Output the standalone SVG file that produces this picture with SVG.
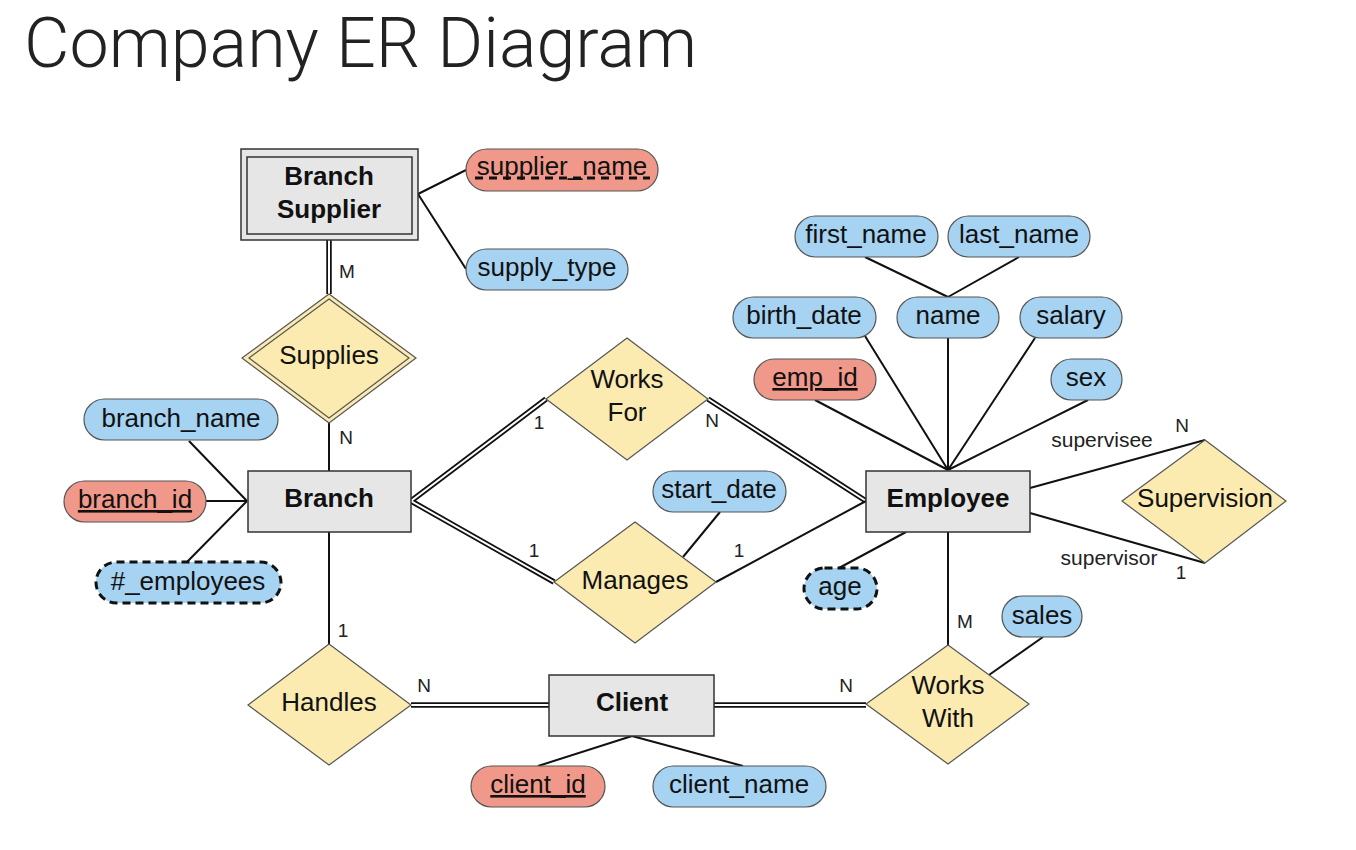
<svg xmlns="http://www.w3.org/2000/svg" width="1356" height="850" viewBox="0 0 1356 850">
<style>
.t{font-family:"Liberation Sans",Arial,sans-serif;font-size:26px;fill:#111;text-anchor:middle}
.b{font-weight:bold}
.lb{font-family:"Liberation Sans",Arial,sans-serif;font-size:19px;fill:#222;text-anchor:middle}
.rl{font-size:21px}
.ent{fill:#e6e6e6;stroke:#333;stroke-width:1.5}
.rel{fill:#fbebb0;stroke:#555;stroke-width:1.2}
.att{fill:#a5d3f1;stroke:#555;stroke-width:1.2}
.key{fill:#f0998a;stroke:#555;stroke-width:1.2}
.der{fill:#a5d3f1;stroke:#111;stroke-width:3;stroke-dasharray:8 5}
.ln{fill:none;stroke:#111;stroke-width:2}
.dbo{fill:none;stroke:#111;stroke-width:5.5}
.dbi{fill:none;stroke:#fff;stroke-width:2}
.title{font-family:Roboto,"Liberation Sans",sans-serif;font-weight:300;font-size:70px;fill:#222}
</style>
<rect width="1356" height="850" fill="#fff"/>
<text class="title" x="24" y="67">Company ER Diagram</text>

<g id="connectors">
  <!-- double lines -->
  <path class="dbo" d="M329,240 V294 M411,501 L546,399 M708,399 L866,501 M411,501 L554,582 M411,705 H549 M714,705 H866"/>
  <path class="dbi" d="M329,240 V294 M411,501 L546,399 M708,399 L866,501 M411,501 L554,582 M411,705 H549 M714,705 H866"/>
  <!-- single lines -->
  <path class="ln" d="M329,423 V471 M329,532 V644 M948,532 V645"/>
  <path class="ln" d="M716,582 L866,501"/>
  <path class="ln" d="M418,194 L466,170 M418,194 L466,269"/>
  <path class="ln" d="M189,441 L247,501 M206,501 H247 M187,562 L247,501"/>
  <path class="ln" d="M720,512 L683,557"/>
  <path class="ln" d="M865,257 L948,297 M1019,257 L948,297"/>
  <path class="ln" d="M815,400 L948,470 M865,336 L948,470 M948,338 V470 M1035,338 L948,470 M1088,400 L948,470"/>
  <path class="ln" d="M839,568 L906,532"/>
  <path class="ln" d="M1030,488 L1205,440 M1030,513 L1205,563"/>
  <path class="ln" d="M1043,637 L989,675"/>
  <path class="ln" d="M632,736 L538,766 M632,736 L743,766"/>
  <!-- cardinality labels -->
  <text class="lb" x="347" y="278">M</text>
  <text class="lb" x="346" y="444">N</text>
  <text class="lb" x="343" y="637">1</text>
  <text class="lb" x="539" y="429">1</text>
  <text class="lb" x="712" y="427">N</text>
  <text class="lb" x="534" y="557">1</text>
  <text class="lb" x="739" y="557">1</text>
  <text class="lb" x="965" y="628">M</text>
  <text class="lb" x="424" y="692">N</text>
  <text class="lb" x="846" y="692">N</text>
  <text class="lb rl" x="1102" y="447">supervisee</text>
  <text class="lb" x="1182" y="432">N</text>
  <text class="lb rl" x="1109" y="565">supervisor</text>
  <text class="lb" x="1181" y="579">1</text>
</g>

<g id="branch-supplier">
  <rect class="ent" x="241" y="149" width="177" height="91"/>
  <rect class="ent" x="247" y="157" width="165" height="77"/>
  <text class="t b" x="329" y="185">Branch</text>
  <text class="t b" x="329" y="218">Supplier</text>
</g>
<g id="supplier-name">
  <rect class="key" x="466" y="149" width="192" height="42" rx="21"/>
  <text class="t" x="562" y="175">supplier_name</text>
  <line x1="475" y1="178" x2="650" y2="178" stroke="#111" stroke-width="3" stroke-dasharray="8 6"/>
</g>
<g id="supply-type">
  <rect class="att" x="466" y="249" width="162" height="41" rx="20.5"/>
  <text class="t" x="547" y="276">supply_type</text>
</g>
<g id="supplies">
  <polygon class="rel" points="329,294 416,358 329,423 242,358"/>
  <polygon class="rel" points="329,299 409,358 329,418 249,358"/>
  <text class="t" x="329" y="364">Supplies</text>
</g>

<g id="branch">
  <rect class="ent" x="248" y="471" width="163" height="61"/>
  <text class="t b" x="329" y="507">Branch</text>
</g>
<g id="branch-name">
  <rect class="att" x="84" y="399" width="194" height="41" rx="20.5"/>
  <text class="t" x="181" y="427">branch_name</text>
</g>
<g id="branch-id">
  <rect class="key" x="64" y="481" width="142" height="41" rx="20.5"/>
  <text class="t" x="135" y="508" text-decoration="underline">branch_id</text>
</g>
<g id="num-employees">
  <rect class="der" x="96" y="562" width="185" height="41" rx="20.5"/>
  <text class="t" x="188" y="590">#_employees</text>
</g>

<g id="works-for">
  <polygon class="rel" points="627,338 708,399 627,460 546,399"/>
  <text class="t" x="627" y="388">Works</text>
  <text class="t" x="627" y="421">For</text>
</g>
<g id="manages">
  <polygon class="rel" points="635,522 716,582 635,643 554,582"/>
  <text class="t" x="635" y="589">Manages</text>
</g>
<g id="start-date">
  <rect class="att" x="653" y="471" width="133" height="41" rx="20.5"/>
  <text class="t" x="719" y="498">start_date</text>
</g>

<g id="employee">
  <rect class="ent" x="866" y="471" width="164" height="61"/>
  <text class="t b" x="948" y="507">Employee</text>
</g>
<g id="first-name">
  <rect class="att" x="795" y="216" width="143" height="41" rx="20.5"/>
  <text class="t" x="866" y="243">first_name</text>
</g>
<g id="last-name">
  <rect class="att" x="948" y="216" width="142" height="41" rx="20.5"/>
  <text class="t" x="1019" y="243">last_name</text>
</g>
<g id="birth-date">
  <rect class="att" x="733" y="297" width="143" height="41" rx="20.5"/>
  <text class="t" x="804" y="324">birth_date</text>
</g>
<g id="name">
  <rect class="att" x="897" y="297" width="102" height="41" rx="20.5"/>
  <text class="t" x="948" y="324">name</text>
</g>
<g id="salary">
  <rect class="att" x="1020" y="297" width="102" height="41" rx="20.5"/>
  <text class="t" x="1071" y="324">salary</text>
</g>
<g id="emp-id">
  <rect class="key" x="754" y="359" width="122" height="41" rx="20.5"/>
  <text class="t" x="815" y="386" text-decoration="underline">emp_id</text>
</g>
<g id="sex">
  <rect class="att" x="1051" y="359" width="71" height="41" rx="20.5"/>
  <text class="t" x="1086" y="386">sex</text>
</g>
<g id="age">
  <rect class="der" x="804" y="568" width="73" height="41" rx="20.5"/>
  <text class="t" x="840" y="595">age</text>
</g>
<g id="supervision">
  <polygon class="rel" points="1205,440 1286,501 1205,563 1122,501"/>
  <text class="t" x="1205" y="507">Supervision</text>
</g>

<g id="works-with">
  <polygon class="rel" points="948,645 1029,704 948,764 866,704"/>
  <text class="t" x="948" y="694">Works</text>
  <text class="t" x="948" y="727">With</text>
</g>
<g id="sales">
  <rect class="att" x="1002" y="596" width="80" height="41" rx="20.5"/>
  <text class="t" x="1042" y="624">sales</text>
</g>
<g id="handles">
  <polygon class="rel" points="329,644 411,705 329,765 248,705"/>
  <text class="t" x="329" y="711">Handles</text>
</g>
<g id="client">
  <rect class="ent" x="549" y="675" width="165" height="61"/>
  <text class="t b" x="632" y="711">Client</text>
</g>
<g id="client-id">
  <rect class="key" x="471" y="766" width="134" height="41" rx="20.5"/>
  <text class="t" x="538" y="793" text-decoration="underline">client_id</text>
</g>
<g id="client-name">
  <rect class="att" x="653" y="766" width="173" height="41" rx="20.5"/>
  <text class="t" x="739" y="793">client_name</text>
</g>
</svg>
